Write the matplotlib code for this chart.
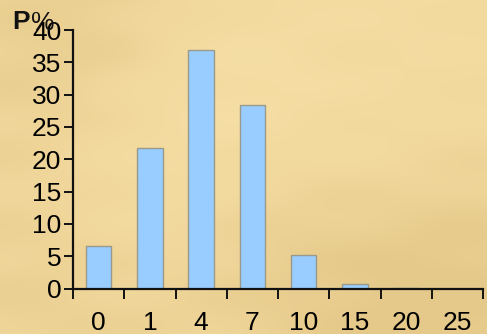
import numpy as np
import matplotlib
matplotlib.use("Agg")
import matplotlib.pyplot as plt

# Share of samples (%) in each dose group
categories = ["0", "1", "4", "7", "10", "15", "20", "25"]
percent = [6.6, 21.8, 36.9, 28.4, 5.2, 0.7, 0.1, 0.0]
y_ticks = [0, 5, 10, 15, 20, 25, 30, 35, 40]

plt.rcParams["font.family"] = ["Liberation Sans", "DejaVu Sans"]

W, H, DPI = 487, 334, 100
fig = plt.figure(figsize=(W / DPI, H / DPI), dpi=DPI)

# Parchment-like backdrop: smooth beige base with soft darker/lighter patches
bg = fig.add_axes([0, 0, 1, 1], zorder=0)
bg.set_axis_off()
yy, xx = np.mgrid[0:H, 0:W].astype(float)
base = np.array([0.945, 0.845, 0.610])
light = np.array([0.965, 0.875, 0.650])
dark = np.array([0.900, 0.790, 0.545])
shade = np.zeros((H, W))
for cx, cy, r, s in [(60, 40, 90, 0.6), (420, 40, 110, -0.5), (150, 170, 80, -0.6),
                     (330, 250, 120, 0.7), (460, 300, 90, 0.8), (40, 300, 90, 0.4),
                     (250, 90, 70, -0.7), (380, 180, 60, -0.4)]:
    shade += s * np.exp(-((xx - cx) ** 2 + (yy - cy) ** 2) / (2 * r ** 2))
shade += 0.15 * np.sin(yy / 11.0) * np.cos(xx / 37.0)
shade = np.clip(shade, -1, 1)
img = base + np.where(shade[..., None] > 0, shade[..., None] * (dark - base),
                      -shade[..., None] * (light - base))
bg.imshow(img, extent=[0, 1, 0, 1], aspect="auto", interpolation="bilinear")
bg.set_xlim(0, 1)
bg.set_ylim(0, 1)

ax = fig.add_axes([73 / W, 1 - 288.5 / H, 410 / W, 258.5 / H], zorder=1)
ax.patch.set_alpha(0)

x = np.arange(len(categories))
ax.bar(x, percent, width=0.5, color="#99CCFF", edgecolor="#9a9a8a", linewidth=1.0, zorder=2)

ax.set_xlim(-0.5, len(categories) - 0.5)
ax.set_ylim(0, 40)
ax.set_yticks(y_ticks)
ax.set_yticklabels([str(t) for t in y_ticks], fontsize=19)

# Category labels sit centred under bars; ticks mark the boundaries
ax.set_xticks(x)
ax.set_xticklabels(categories, fontsize=19)
ax.tick_params(axis="x", which="major", length=0, pad=16)
ax.set_xticks(np.arange(len(categories) + 1) - 0.5, minor=True)
ax.tick_params(axis="x", which="minor", direction="out", length=7.5, width=1.4, color="#111111")
ax.tick_params(axis="y", direction="out", length=6.5, width=1.4, pad=2, color="#111111")

for side in ("top", "right"):
    ax.spines[side].set_visible(False)
for side in ("left", "bottom"):
    ax.spines[side].set_linewidth(1.6)
    ax.spines[side].set_color("#111111")

fig.text(12 / W, 1 - 29 / H, "P", fontsize=19, fontweight="bold", color="#111111")
fig.text(31 / W, 1 - 30 / H, "%", fontsize=19, color="#111111")

fig.savefig("out.png", dpi=DPI)
